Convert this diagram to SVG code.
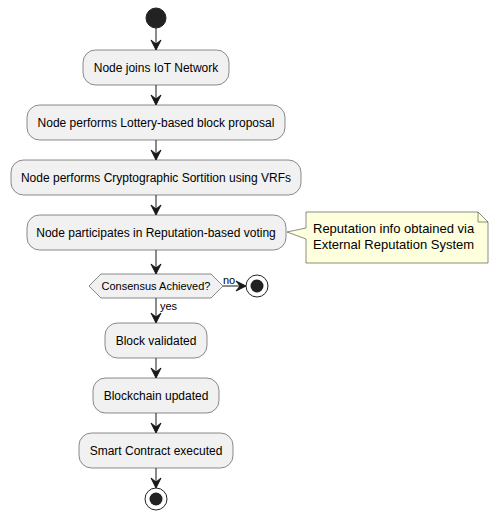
<svg xmlns="http://www.w3.org/2000/svg" width="498" height="520" viewBox="0 0 498 520">
<style>
.box{fill:#F1F1F1;stroke:#181818;stroke-width:0.5}
.t{font-family:"Liberation Sans",Arial,sans-serif;font-size:12px;fill:#000;text-anchor:middle}
.nt{font-family:"Liberation Sans",Arial,sans-serif;font-size:13px;fill:#000}
.lbl{font-family:"Liberation Sans",Arial,sans-serif;font-size:11px;fill:#000}
.ln{stroke:#181818;stroke-width:1;fill:none}
.ah{fill:#181818;stroke:#181818;stroke-width:1}
</style>
<defs>
<path id="ad" d="M-5,-10 L0,0 L5,-10 L0,-6 Z"/>
<path id="ar" d="M-10,-5 L0,0 L-10,5 L-6,0 Z"/>
</defs>
<rect width="498" height="520" fill="#FFFFFF"/>
<g id="start"><circle cx="156" cy="18" r="10" fill="#222222" stroke="#222222"/></g>
<g id="n1"><rect class="box" x="83" y="50" width="146" height="35" rx="12.5"/><text class="t" x="156" y="72">Node joins IoT Network</text></g>
<g id="n2"><rect class="box" x="27" y="105" width="258" height="35" rx="12.5"/><text class="t" x="156" y="127">Node performs Lottery-based block proposal</text></g>
<g id="n3"><rect class="box" x="11" y="160" width="290" height="35" rx="12.5"/><text class="t" x="156" y="182">Node performs Cryptographic Sortition using VRFs</text></g>
<g id="n4"><rect class="box" x="27" y="215" width="259" height="35" rx="12.5"/><text class="t" x="156" y="237">Node participates in Reputation-based voting</text></g>
<g id="note"><path d="M306,212 L478,212 L488,222 L488,263 L306,263 L306,239 L287,232 L306,228 Z" fill="#FEFFDD" stroke="#181818" stroke-width="0.5"/><path d="M478,212 L478,222 L488,222" fill="none" stroke="#181818" stroke-width="0.5"/><text class="nt" x="313" y="233">Reputation info obtained via</text><text class="nt" x="313" y="249">External Reputation System</text></g>
<g id="dec"><polygon class="box" points="89,286 101,274 211,274 223,286 211,298 101,298"/><text class="lbl" x="156" y="290" text-anchor="middle">Consensus Achieved?</text></g>
<g id="stop1"><circle cx="257" cy="286" r="11" fill="none" stroke="#222222" stroke-width="1"/><circle cx="257" cy="286" r="6.5" fill="#222222"/></g>
<g id="n5"><rect class="box" x="105" y="323" width="102" height="35" rx="12.5"/><text class="t" x="156" y="345">Block validated</text></g>
<g id="n6"><rect class="box" x="93" y="378" width="126" height="35" rx="12.5"/><text class="t" x="156" y="400">Blockchain updated</text></g>
<g id="n7"><rect class="box" x="79" y="433" width="154" height="35" rx="12.5"/><text class="t" x="156" y="455">Smart Contract executed</text></g>
<g id="stop2"><circle cx="156" cy="499" r="11" fill="none" stroke="#222222" stroke-width="1"/><circle cx="156" cy="499" r="6.5" fill="#222222"/></g>
<g id="edges">
<line class="ln" x1="156" y1="28" x2="156" y2="49"/><use href="#ad" class="ah" transform="translate(156,50)"/>
<line class="ln" x1="156" y1="85" x2="156" y2="104"/><use href="#ad" class="ah" transform="translate(156,105)"/>
<line class="ln" x1="156" y1="140" x2="156" y2="159"/><use href="#ad" class="ah" transform="translate(156,160)"/>
<line class="ln" x1="156" y1="195" x2="156" y2="214"/><use href="#ad" class="ah" transform="translate(156,215)"/>
<line class="ln" x1="156" y1="250" x2="156" y2="273"/><use href="#ad" class="ah" transform="translate(156,274)"/>
<line class="ln" x1="223" y1="286" x2="245" y2="286"/><use href="#ar" class="ah" transform="translate(246,286)"/>
<text class="lbl" x="223" y="284">no</text>
<line class="ln" x1="156" y1="298" x2="156" y2="322"/><use href="#ad" class="ah" transform="translate(156,323)"/>
<text class="lbl" x="160" y="310">yes</text>
<line class="ln" x1="156" y1="358" x2="156" y2="377"/><use href="#ad" class="ah" transform="translate(156,378)"/>
<line class="ln" x1="156" y1="413" x2="156" y2="432"/><use href="#ad" class="ah" transform="translate(156,433)"/>
<line class="ln" x1="156" y1="468" x2="156" y2="487"/><use href="#ad" class="ah" transform="translate(156,488)"/>
</g>
</svg>
